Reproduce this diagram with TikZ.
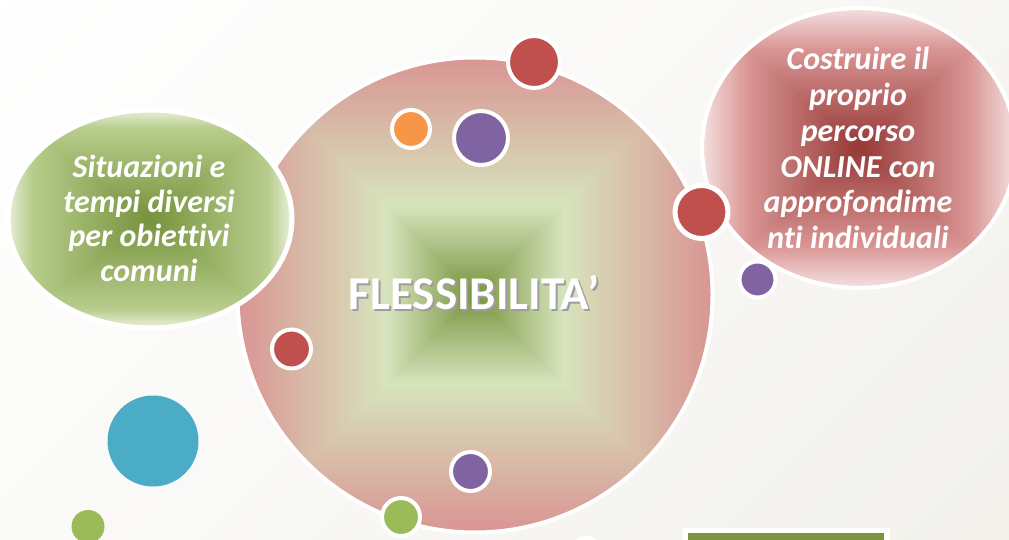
\documentclass[tikz,border=0pt]{standalone}
\usepackage{fontspec}
\setmainfont[Ligatures=NoCommon]{Carlito}
\definecolor{dotred}{HTML}{C0504D}
\definecolor{dotpurple}{HTML}{8064A2}
\definecolor{dotorange}{HTML}{F79646}
\definecolor{dotblue}{HTML}{4BACC6}
\definecolor{dotgreen}{HTML}{9BBB59}
\definecolor{barolive}{HTML}{7A963F}
\definecolor{olive}{HTML}{76923C}
\definecolor{palegreen}{HTML}{D7E4BD}
\definecolor{midgreen}{HTML}{B8CD8C}
\definecolor{palest}{HTML}{E3ECD0}
\definecolor{rosy}{HTML}{D99694}
\definecolor{darkred}{HTML}{953735}
\definecolor{palered}{HTML}{F2DCDB}
\definecolor{bgend}{HTML}{F1F0EB}
% centre x, centre y, half width, half height, inner, middle, outer, stop
\newcommand{\rectgrad}[8]{%
  \foreach \i in {90,89,...,1}{%
    \pgfmathsetmacro{\tt}{\i/90}%
    \pgfmathsetmacro{\pa}{min(100,100*\tt/#8)}%
    \pgfmathsetmacro{\pb}{max(0,100*(\tt-#8)/(1-#8))}%
    \pgfmathparse{\tt<#8?1:0}%
    \ifnum\pgfmathresult=1
      \fill[#6!\pa!#5] ({#1-#3*\tt},{#2-#4*\tt}) rectangle ({#1+#3*\tt},{#2+#4*\tt});%
    \else
      \fill[#7!\pb!#6] ({#1-#3*\tt},{#2-#4*\tt}) rectangle ({#1+#3*\tt},{#2+#4*\tt});%
    \fi
  }%
}
\tikzset{
  dot/.style={circle,inner sep=0pt,draw=white,line width=4pt},
  plain dot/.style={circle,inner sep=0pt},
  bubble text/.style={text=white,align=center,font=\fontsize{32}{35.8}\selectfont\bfseries\itshape},
  title text/.style={font=\fontsize{47}{47}\selectfont\bfseries}
}
\begin{document}
\begin{tikzpicture}[x=1pt,y=-1pt]
\useasboundingbox (0,0) rectangle (1009,540);
\clip (0,0) rectangle (1009,540);
\shade[top color=white,bottom color=bgend,middle color=white!55!bgend,shading angle=45] (-200,-200) rectangle (1209,740);
% main circle
\begin{scope}
  \clip (475,295) circle (236);
  \rectgrad{475}{295}{236}{236}{olive}{palegreen}{rosy}{0.38}
\end{scope}
\draw[white,line width=4pt] (475,295) circle (237.5);
\node[title text,text=white] (title) at (474,294) {\makebox[0pt][l]{\raisebox{-2pt}{\kern2pt\textcolor{black!38}{FLESSIBILITA’}}}FLESSIBILITA’};
% green ellipse
\begin{scope}
  \clip (150,219) ellipse [x radius=140,y radius=107];
  \rectgrad{150}{219}{140}{107}{olive}{midgreen}{palest}{0.85}
\end{scope}
\draw[white,line width=5pt] (150,219) ellipse [x radius=142,y radius=109];
\node[bubble text,font=\fontsize{32}{34.5}\selectfont\bfseries\itshape] (left) at (149,218.5) {Situazioni e\\tempi diversi\\per obiettivi\\comuni};
% red ellipse
\begin{scope}
  \clip (859,148) ellipse [x radius=155,y radius=138];
  \rectgrad{859}{148}{155}{138}{darkred}{rosy}{palered}{0.72}
\end{scope}
\draw[white,line width=4pt] (859,148) ellipse [x radius=157,y radius=140];
\node[bubble text] (right) at (858,148) {Costruire il\\proprio\\percorso\\ONLINE con\\approfondime\\nti individuali};
% dots
\node[dot,fill=dotred,minimum size=52pt] (d1) at (534,62) {};
\node[dot,fill=dotorange,minimum size=38pt] (d2) at (411,129) {};
\node[dot,fill=dotpurple,minimum size=54pt] (d3) at (481,138) {};
\node[dot,fill=dotred,minimum size=53pt,line width=5pt] (d4) at (701.5,212) {};
\node[dot,fill=dotpurple,minimum size=36pt] (d5) at (757.5,279.5) {};
\node[dot,fill=dotred,minimum size=39pt] (d6) at (291.5,349) {};
\node[plain dot,fill=dotblue,minimum size=91pt] (d7) at (153,441) {};
\node[plain dot,fill=dotgreen,minimum size=33pt] (d8) at (88,526.5) {};
\node[dot,fill=dotpurple,minimum size=39pt] (d9) at (470.5,471.5) {};
\node[dot,fill=dotgreen,minimum size=38pt] (d10) at (401,517) {};
\node[plain dot,fill=white,minimum size=30pt] (d11) at (586,551) {};
% bar at the bottom
\node[anchor=north west,fill=white,minimum width=207pt,minimum height=30pt,inner sep=0pt] (barback) at (683,528) {};
\node[anchor=north west,fill=barolive,minimum width=196pt,minimum height=20pt,inner sep=0pt] (bar) at (688,533) {};
\end{tikzpicture}
\end{document}
